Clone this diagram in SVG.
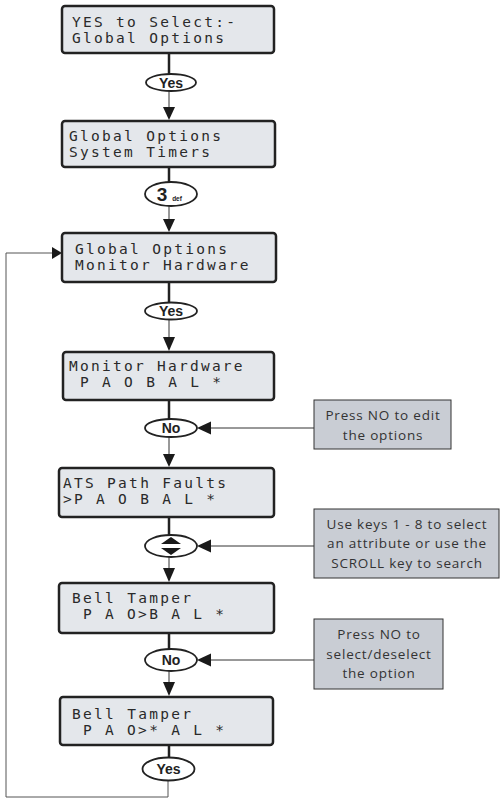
<svg xmlns="http://www.w3.org/2000/svg" width="501" height="799" viewBox="0 0 501 799">
<defs>
<style>
.box{fill:#e4e7eb;stroke:#222;stroke-width:2.5}
.lcd{font-family:"DejaVu Sans Mono","Liberation Mono",monospace;font-size:14.5px;fill:#2a2a2a}
.key{fill:#fff;stroke:#222;stroke-width:1.8}
.kt{font-family:"Liberation Sans",Arial,sans-serif;font-weight:bold;font-size:14px;fill:#222;text-anchor:middle}
.thick{stroke:#222;stroke-width:2.5;fill:none}
.thin{stroke:#333;stroke-width:1;fill:none}
.loop{stroke:#555;stroke-width:1;fill:none}
.ah{fill:#1a1a1a}
.note{fill:#c9cdd4;stroke:#333;stroke-width:1}
.nt{font-family:"Open Sans","Liberation Sans",sans-serif;font-size:13.5px;letter-spacing:0.8px;fill:#333;text-anchor:middle}
</style>
</defs>

<g id="connectors">
<line class="thick" x1="169" y1="53" x2="169" y2="74"/>
<line class="thin" x1="169" y1="91" x2="169" y2="108"/>
<polygon class="ah" points="163,107 175,107 169,120"/>

<line class="thick" x1="169" y1="167" x2="169" y2="182"/>
<line class="thin" x1="169" y1="206" x2="169" y2="220"/>
<polygon class="ah" points="163,219 175,219 169,232"/>

<line class="thick" x1="169" y1="282" x2="169" y2="303"/>
<line class="thin" x1="169" y1="320" x2="169" y2="338"/>
<polygon class="ah" points="163,337 175,337 169,351"/>

<line class="thick" x1="169" y1="400" x2="169" y2="419"/>
<line class="thin" x1="169" y1="437" x2="169" y2="455"/>
<polygon class="ah" points="163,454 175,454 169,467"/>

<line class="thick" x1="169" y1="517" x2="169" y2="535"/>
<line class="thin" x1="169" y1="557" x2="169" y2="569"/>
<polygon class="ah" points="163,568 175,568 169,582"/>

<line class="thick" x1="169" y1="633" x2="169" y2="649"/>
<line class="thin" x1="169" y1="671" x2="169" y2="683"/>
<polygon class="ah" points="163,682 175,682 169,696"/>

<line class="thick" x1="169" y1="745" x2="169" y2="758"/>
<polyline class="loop" points="168,780 168,797 6,797 6,253 53,253"/>
<polygon class="ah" points="52,247 52,259 62,253"/>

<line class="thin" x1="210" y1="428" x2="314" y2="428"/>
<polygon class="ah" points="211,421.5 211,434.5 197,428"/>
<line class="thin" x1="210" y1="546" x2="314" y2="546"/>
<polygon class="ah" points="211,539.5 211,552.5 197,546"/>
<line class="thin" x1="210" y1="660" x2="314" y2="660"/>
<polygon class="ah" points="211,653.5 211,666.5 197,660"/>
</g>

<g id="n1"><rect class="box" x="62" y="6" width="212" height="47" rx="3"/>
<text class="lcd" x="72" y="27" textLength="163" xml:space="preserve">YES to Select:-</text>
<text class="lcd" x="72" y="43" textLength="152" xml:space="preserve">Global Options</text></g>

<g id="k1"><ellipse class="key" cx="171" cy="82.5" rx="25" ry="8.5"/><text class="kt" x="171" y="87.5">Yes</text></g>

<g id="n2"><rect class="box" x="62" y="121" width="213" height="46" rx="3"/>
<text class="lcd" x="69" y="141" textLength="152" xml:space="preserve">Global Options</text>
<text class="lcd" x="69" y="157" textLength="141" xml:space="preserve">System Timers</text></g>

<g id="k2"><ellipse class="key" cx="171" cy="194" rx="26" ry="12"/>
<text x="162" y="201" style="font-family:'Liberation Sans',Arial,sans-serif;font-weight:bold;font-size:19px;fill:#222" text-anchor="middle">3</text>
<text x="177" y="201" style="font-family:'Liberation Sans',Arial,sans-serif;font-weight:bold;font-size:6.5px;fill:#222" text-anchor="middle">def</text></g>

<g id="n3"><rect class="box" x="62" y="233" width="214" height="49" rx="3"/>
<text class="lcd" x="75" y="254" textLength="152" xml:space="preserve">Global Options</text>
<text class="lcd" x="75" y="270" textLength="173.6" xml:space="preserve">Monitor Hardware</text></g>

<g id="k3"><ellipse class="key" cx="171" cy="311" rx="26" ry="8.5"/><text class="kt" x="171" y="316">Yes</text></g>

<g id="n4"><rect class="box" x="63" y="352" width="211" height="48" rx="3"/>
<text class="lcd" x="69" y="371" textLength="173.6" xml:space="preserve">Monitor Hardware</text>
<text class="lcd" x="69" y="387" textLength="152" xml:space="preserve"> P A O B A L *</text></g>

<g id="k4"><ellipse class="key" cx="171" cy="428" rx="26" ry="9"/><text class="kt" x="171" y="433">No</text></g>

<g id="n5"><rect class="box" x="59" y="468" width="215" height="49" rx="3"/>
<text class="lcd" x="63" y="488" textLength="163" xml:space="preserve">ATS Path Faults</text>
<text class="lcd" x="63" y="504" textLength="152" xml:space="preserve">&gt;P A O B A L *</text></g>

<g id="k5"><ellipse class="key" cx="171" cy="546" rx="26" ry="11"/>
<polygon class="ah" points="171,537 161,544 181,544"/>
<polygon class="ah" points="161,548 181,548 171,555"/></g>

<g id="n6"><rect class="box" x="59" y="583" width="215" height="50" rx="3"/>
<text class="lcd" x="72" y="603" textLength="119" xml:space="preserve">Bell Tamper</text>
<text class="lcd" x="72" y="619" textLength="152" xml:space="preserve"> P A O&gt;B A L *</text></g>

<g id="k6"><ellipse class="key" cx="171" cy="660" rx="26" ry="11"/><text class="kt" x="171" y="665">No</text></g>

<g id="n7"><rect class="box" x="60" y="697" width="213" height="48" rx="3"/>
<text class="lcd" x="72" y="719" textLength="119" xml:space="preserve">Bell Tamper</text>
<text class="lcd" x="72" y="735" textLength="152" xml:space="preserve"> P A O&gt;* A L *</text></g>

<g id="k7"><ellipse class="key" cx="168.5" cy="769" rx="26" ry="11.5"/><text class="kt" x="168.5" y="774">Yes</text></g>

<g id="c1"><rect class="note" x="314" y="400" width="137" height="49"/>
<text class="nt" x="383" y="420">Press NO to edit</text>
<text class="nt" x="383" y="440">the options</text></g>

<g id="c2"><rect class="note" x="314" y="509" width="185" height="69"/>
<text class="nt" x="407" y="529">Use keys 1 - 8 to select</text>
<text class="nt" x="407" y="548">an attribute or use the</text>
<text class="nt" x="407" y="568">SCROLL key to search</text></g>

<g id="c3"><rect class="note" x="314" y="619" width="129" height="70"/>
<text class="nt" x="379" y="639">Press NO to</text>
<text class="nt" x="379" y="659">select/deselect</text>
<text class="nt" x="379" y="678">the option</text></g>
</svg>
